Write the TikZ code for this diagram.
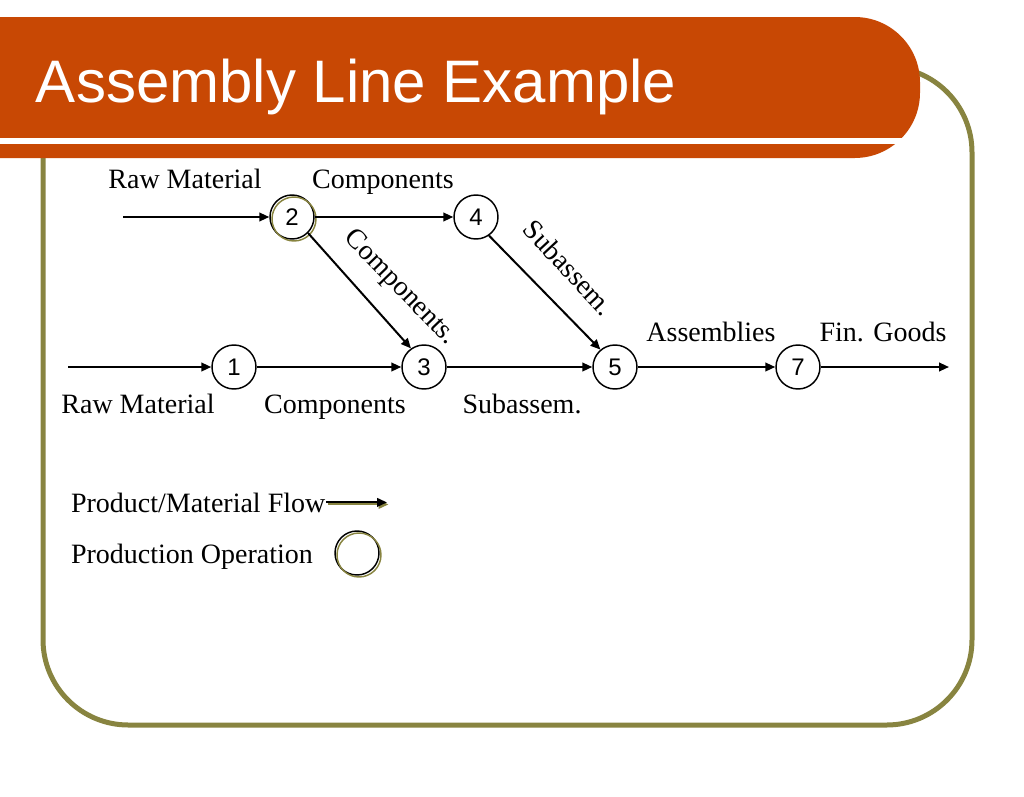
\documentclass[tikz,border=0pt]{standalone}
\usepackage{fontspec}
\setmainfont{Liberation Serif}
\newfontfamily\arialfont{Liberation Sans}
\usetikzlibrary{arrows.meta}
\definecolor{barorange}{RGB}{200,72,4}
\definecolor{frameolive}{RGB}{136,132,64}
\tikzset{every picture/.style={line width=1.5pt}}
\tikzset{op node/.style={circle, draw, line width=1.1pt, minimum size=33pt, inner sep=0pt, font=\arialfont\fontsize{18}{18}\selectfont}}
\tikzset{flow/.style={-{Triangle[length=7.5pt,width=6.5pt]}}}
\tikzset{lbl/.style={font=\fontsize{21}{24}\selectfont, inner sep=0pt}}
\tikzset{ring/.style={frameolive, line width=1.1pt}}
\newcommand{\ring}[1]{\draw[ring] ([shift={(2,2)}]#1.center) circle[radius=16.5pt];}

\begin{document}
\begin{tikzpicture}[x=0.75pt,y=-0.75pt]
        \useasboundingbox (0,0) rectangle (1024,796);
        \draw[frameolive, line width=3.75pt, rounded corners=64pt] (43,67) rectangle (972,725);
        \fill[barorange, rounded corners=49pt] (-100,17) rectangle (920,158);
        \fill[white] (0,138) rectangle (920,144);
        \node[anchor=base west, text=white, inner sep=0pt, font=\arialfont\fontsize{45}{45}\selectfont] (title) at (35,102) {Assembly Line Example};

        \node[op node] (n2) at (292,217) {2};
        \node[op node] (n4) at (476,217) {4};
        \node[op node] (n1) at (234,367) {1};
        \node[op node] (n3) at (424,367) {3};
        \node[op node] (n5) at (615,367) {5};
        \node[op node] (n7) at (798,367) {7};
        \ring{n2}
        \coordinate (in2) at (123,217);
        \coordinate (in1) at (68,367);
        \coordinate (out7) at (949,367);

        \draw[flow] (in2) -- (n2);
        \draw[flow] (n2) -- (n4);
        \draw[flow] (n2.-45) -- (n3.125);
        \draw[flow] (n4.-55) -- (n5.130);
        \draw[flow] (in1) -- (n1);
        \draw[flow] (n1) -- (n3);
        \draw[flow] (n3) -- (n5);
        \draw[flow] (n5) -- (n7);
        \draw[flow] (n7) -- (out7);

        \node[lbl, anchor=base] (rawtop) at (185,188) {Raw Material};
        \node[lbl, anchor=base] (comptop) at (383,188) {Components};
        \node[lbl, rotate=-46] (compdiag) at (400,288) {Components.};
        \node[lbl, rotate=-47] (subdiag) at (569,268) {Subassem.};
        \node[lbl, anchor=base] (rawbot) at (138,413) {Raw Material};
        \node[lbl, anchor=base] (compbot) at (335,413) {Components};
        \node[lbl, anchor=base] (subbot) at (522,413) {Subassem.};
        \node[lbl, anchor=base] (assem) at (711,341) {Assemblies};
        \node[lbl, anchor=base] (fin) at (883,341) {Fin. Goods};

        % legend
        \node[lbl, anchor=base west] (legflow) at (70,512) {Product/Material Flow};
        \coordinate (flowtip) at (387,503);
        \draw[flow, frameolive] ([shift={(1.5,2)}]legflow.east) -- ([shift={(1.5,2)}]legflow.east -| flowtip);
        \draw[flow] (legflow.east) -- (legflow.east -| flowtip);
        \node[lbl, anchor=base west] (legop) at (70,563) {Production Operation};
        \node[op node] (opsym) at (357,553) {};
        \ring{opsym}
    \end{tikzpicture}
\end{document}
